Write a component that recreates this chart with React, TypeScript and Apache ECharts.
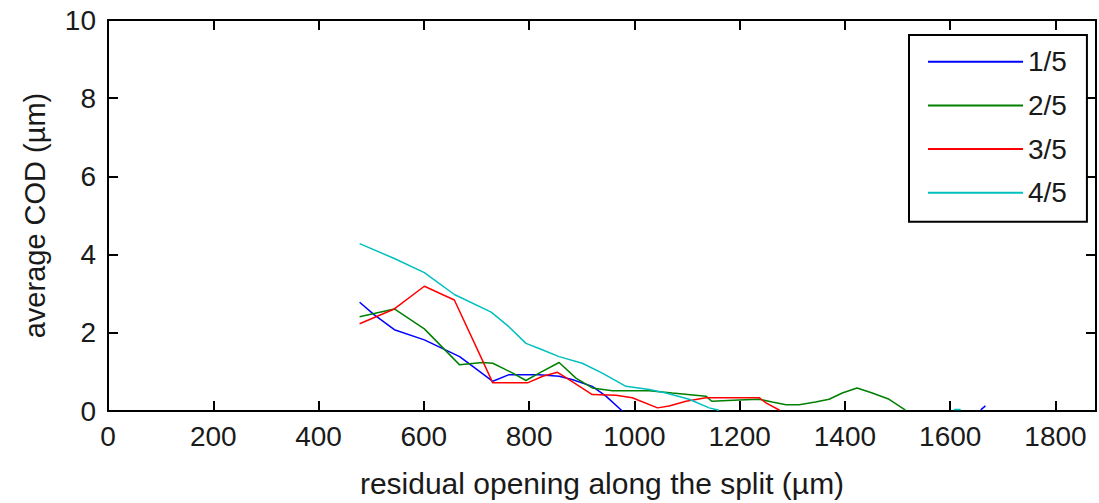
import React, { useEffect, useRef } from "react";
import * as echarts from "echarts";

const seriesNames = ["1/5", "2/5", "3/5", "4/5"];
const seriesColors = ["#0000ff", "#008000", "#ff0000", "#00bfbf"];

const series1: (number | null)[][] = [
  [478, 2.78], [506, 2.46], [544, 2.08], [601, 1.82], [668, 1.39], [693, 1.14],
  [731, 0.76], [762, 0.93], [819, 0.93], [857, 0.89], [883, 0.8], [920, 0.63],
  [946, 0.38], [977, 0], [977, null], [1658, 0.03], [1667, 0.13],
];
const series2: (number | null)[][] = [
  [478, 2.41], [544, 2.61], [601, 2.1], [668, 1.18], [712, 1.24], [731, 1.22],
  [769, 0.97], [794, 0.78], [819, 0.97], [857, 1.24], [889, 0.84], [920, 0.59],
  [958, 0.52], [1028, 0.52], [1072, 0.46], [1136, 0.38], [1147, 0.25], [1199, 0.28],
  [1237, 0.3], [1262, 0.23], [1288, 0.16], [1313, 0.16], [1344, 0.23], [1370, 0.3],
  [1395, 0.46], [1423, 0.59], [1452, 0.46], [1484, 0.3], [1515, 0.02],
];
const series3: (number | null)[][] = [
  [478, 2.23], [544, 2.61], [601, 3.19], [658, 2.84], [705, 1.48], [731, 0.72],
  [797, 0.72], [826, 0.89], [854, 0.99], [876, 0.8], [920, 0.42], [965, 0.4],
  [996, 0.34], [1044, 0.08], [1066, 0.13], [1098, 0.25], [1136, 0.34], [1237, 0.34],
  [1250, 0.21], [1276, 0.02],
];
const series4: (number | null)[][] = [
  [478, 4.28], [544, 3.9], [601, 3.54], [658, 2.98], [728, 2.53], [762, 2.15],
  [794, 1.73], [819, 1.6], [857, 1.39], [901, 1.22], [939, 0.97], [984, 0.63],
  [1028, 0.55], [1060, 0.46], [1104, 0.3], [1142, 0.08], [1161, 0.02], [1161, null],
  [1607, 0.04], [1620, 0.04],
];
const allSeries = [series1, series2, series3, series4];

const xMin = 0;
const xMax = 1877;
const xStep = 200;
const yMin = 0;
const yMax = 10;
const yStep = 2;

const FONT = "Liberation Sans";
const TXT = "#1a1a1a";

export default function App() {
  const ref = useRef<HTMLDivElement>(null);
  useEffect(() => {
    if (!ref.current) return;
    const chart = echarts.init(ref.current, undefined, { renderer: "svg" });
    const axisLine = { show: true, onZero: false, lineStyle: { color: "#000", width: 2 } };
    const axisTick = { show: true, inside: true, length: 10, lineStyle: { color: "#000", width: 2 } };
    chart.setOption({
      animation: false,
      backgroundColor: "#fff",
      grid: { left: 108, right: 2, top: 20, bottom: 88, containLabel: false },
      legend: {
        orient: "vertical",
        left: 909,
        top: 35,
        icon: "rect",
        itemWidth: 95,
        itemHeight: 2,
        itemGap: 13.7,
        padding: [11.7, 20, 14, 19],
        borderColor: "#000",
        borderWidth: 2,
        backgroundColor: "#fff",
        textStyle: { fontSize: 28, fontFamily: FONT, color: TXT, lineHeight: 30 },
        data: seriesNames,
      },
      xAxis: [
        {
          type: "value",
          min: xMin,
          max: xMax,
          interval: xStep,
          name: "residual opening along the split (µm)",
          nameLocation: "middle",
          nameGap: 57,
          nameTextStyle: { fontSize: 30, fontFamily: FONT, color: TXT, lineHeight: 30 },
          axisLine,
          axisTick,
          splitLine: { show: false },
          axisLabel: {
            margin: 11,
            fontSize: 28,
            fontFamily: FONT,
            color: TXT,
            lineHeight: 28,
            formatter: (v: number) => (v % xStep === 0 ? String(v) : ""),
          },
        },
        {
          type: "value",
          position: "top",
          min: xMin,
          max: xMax,
          interval: xStep,
          axisLine,
          axisTick,
          splitLine: { show: false },
          axisLabel: { show: false },
        },
      ],
      yAxis: [
        {
          type: "value",
          min: yMin,
          max: yMax,
          interval: yStep,
          name: "average COD (µm)",
          nameLocation: "middle",
          nameGap: 58,
          nameTextStyle: { fontSize: 29, fontFamily: FONT, color: TXT, lineHeight: 30 },
          axisLine,
          axisTick,
          splitLine: { show: false },
          axisLabel: { margin: 12, fontSize: 28, fontFamily: FONT, color: TXT },
        },
        {
          type: "value",
          position: "right",
          min: yMin,
          max: yMax,
          interval: yStep,
          axisLine,
          axisTick,
          splitLine: { show: false },
          axisLabel: { show: false },
        },
      ],
      series: allSeries.map((d, i) => ({
        name: seriesNames[i],
        type: "line",
        xAxisIndex: 0,
        yAxisIndex: 0,
        data: d,
        color: seriesColors[i],
        symbol: "none",
        showSymbol: false,
        clip: true,
        connectNulls: false,
        lineStyle: { width: 1.5, color: seriesColors[i] },
      })),
    });
    return () => chart.dispose();
  }, []);
  return (
    <div
      ref={ref}
      style={{ position: "fixed", left: 0, top: 0, width: 1099, height: 503, background: "#fff" }}
    />
  );
}
